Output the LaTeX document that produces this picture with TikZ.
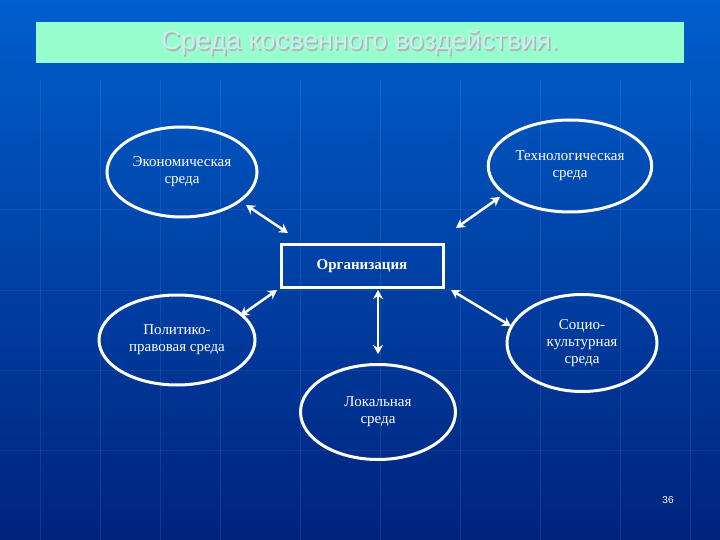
\documentclass[tikz,border=0pt]{standalone}
\usepackage{fontspec}
\setmainfont{Liberation Serif}
\newfontfamily\sansf{Liberation Sans}
\usetikzlibrary{shapes.geometric,arrows.meta}
\definecolor{bgtop}{RGB}{0,95,205}
\definecolor{bgbot}{RGB}{0,35,125}
\definecolor{titlebg}{RGB}{150,255,205}
\definecolor{titletx}{RGB}{200,240,240}
\tikzset{
 env/.style={ellipse,draw=white,line width=3pt,align=center,text=white,font=\fontsize{15}{17}\selectfont},
 lnk/.style={white,line width=2.5pt,{Stealth[length=9pt,width=10pt]}-{Stealth[length=9pt,width=10pt]}},
}
\begin{document}
\begin{tikzpicture}[x=1pt,y=-1pt]
\useasboundingbox (0,0) rectangle (720,540);
\shade[top color=bgtop,bottom color=bgbot] (0,0) rectangle (720,540);
\foreach \xx in {40,100,160,220,300,380,460,540,620,690}
  \draw[white,opacity=0.08,line width=1pt] (\xx,80) -- (\xx,540);
\foreach \yy in {210,290,370,450}
  \draw[white,opacity=0.06,line width=1pt] (0,\yy) -- (720,\yy);
\node[fill=titlebg,minimum width=648,minimum height=41,inner sep=0] (title) at (360,42.5) {};
\node[text=gray!60,font=\sansf\fontsize{27}{30}\selectfont] at (361.5,44) {Среда косвенного воздействия.};
\node[text=titletx,font=\sansf\fontsize{27}{30}\selectfont] (tt) at (360,42.5) {Среда косвенного воздействия.};
\node[env,minimum width=150,minimum height=90] (econ) at (182,172) {Экономическая\\среда};
\node[env,minimum width=160,minimum height=92] (tech) at (570,166) {Технологическая\\среда};
\node[draw=white,line width=3pt,minimum width=162,minimum height=43,text=white,font=\bfseries\fontsize{15}{17}\selectfont] (org) at (362,266) {Организация};
\node[env,minimum width=156,minimum height=90] (pol) at (177,340) {Политико-\\правовая среда};
\node[env,minimum width=150,minimum height=97] (soc) at (582,343) {Социо-\\культурная\\среда};
\node[env,minimum width=155,minimum height=95] (loc) at (378,412) {Локальная\\среда};
\node[text=white,font=\sansf\fontsize{10}{12}\selectfont] (num) at (668,500) {36};
\coordinate (a1) at (246,205); \coordinate (a2) at (288,233);
\coordinate (b1) at (500,197); \coordinate (b2) at (456,228);
\coordinate (c1) at (277,290); \coordinate (c2) at (240,316);
\coordinate (d1) at (451,290); \coordinate (d2) at (511,326);
\coordinate (e1) at (378,290); \coordinate (e2) at (378,354);
\draw[lnk] (a1) -- (a2);
\draw[lnk] (b1) -- (b2);
\draw[lnk] (c1) -- (c2);
\draw[lnk] (d1) -- (d2);
\draw[lnk] (e1) -- (e2);
\end{tikzpicture}
\end{document}
